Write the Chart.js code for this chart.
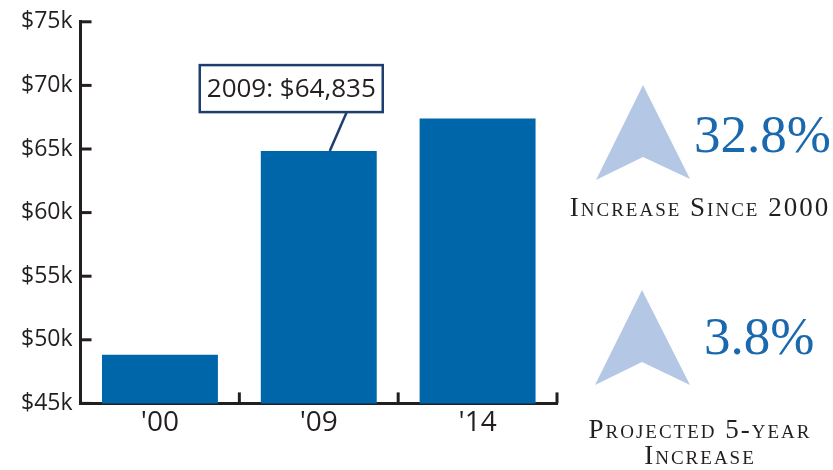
<!DOCTYPE html>
<html>
<head>
<meta charset="utf-8">
<script src="https://cdn.jsdelivr.net/npm/chart.js@4/dist/chart.umd.min.js"></script>
<style>
    html, body { margin: 0; padding: 0; background: #fff; }
    #wrap { position: relative; width: 833px; height: 470px; overflow: hidden; }
    #chartBox { position: absolute; left: 0; top: 0; width: 833px; height: 470px; }
    .arrow { position: absolute; }
    .pct {
        position: absolute;
        font-family: "Liberation Serif", "DejaVu Serif", serif;
        font-size: 53px;
        color: #1a68ad;
        line-height: 1;
        white-space: nowrap;
    }
    .caption {
        position: absolute;
        font-family: "Liberation Serif", "DejaVu Serif", serif;
        font-variant: small-caps;
        font-size: 27px;
        letter-spacing: 2px;
        color: #231f20;
        line-height: 26px;
        text-align: center;
        white-space: nowrap;
    }
</style>
</head>
<body>
<div id="wrap">
    <div id="chartBox"><canvas id="incomeChart"></canvas></div>

    <svg class="arrow" style="left:590px;top:80px" width="110" height="110" viewBox="0 0 110 110">
        <polygon points="53,5 6,100 53,77 100,99" fill="#b4c8e5"/>
    </svg>
    <div class="pct" style="left:694px;top:108px">32.8%</div>
    <div class="caption" style="left:560px;top:194px;width:280px">Increase Since 2000</div>

    <svg class="arrow" style="left:590px;top:285px" width="110" height="110" viewBox="0 0 110 110">
        <polygon points="52,5 5,100 52,77 100,100" fill="#b4c8e5"/>
    </svg>
    <div class="pct" style="left:704px;top:310px">3.8%</div>
    <div class="caption" style="left:560px;top:416px;width:280px">Projected 5-year<br>Increase</div>
</div>

<script>
// ===========================
// MEDIAN INCOME BAR CHART
// ===========================

const years = ["'00", "'09", "'14"];
const incomeValues = [48822, 64835, 67400];
const yTicks = [45000, 50000, 55000, 60000, 65000, 70000, 75000];

const calloutIndex = 1;
const calloutLabel = '2009: $64,835';

const axisColor = '#231f20';
const barColor = '#0066aa';

// Ticks pointing into the plot area
const innerTicksPlugin = {
    id: 'innerTicks',
    afterDraw(chart) {
        const ctx = chart.ctx;
        const x = chart.scales.x;
        const y = chart.scales.y;
        const area = chart.chartArea;

        ctx.save();
        ctx.strokeStyle = axisColor;
        ctx.lineWidth = 3;

        // y ticks
        yTicks.forEach(v => {
            const py = y.getPixelForValue(v);
            ctx.beginPath();
            ctx.moveTo(area.left, py);
            ctx.lineTo(area.left + 11, py);
            ctx.stroke();
        });

        // x ticks between categories
        const half = (x.getPixelForValue(1) - x.getPixelForValue(0)) / 2;
        years.forEach((_, i) => {
            const px = x.getPixelForValue(i) + half;
            ctx.beginPath();
            ctx.moveTo(px, area.bottom);
            ctx.lineTo(px, area.bottom - 11);
            ctx.stroke();
        });
        ctx.restore();
    }
};

// Callout box with leader line to the 2009 bar
const calloutPlugin = {
    id: 'callout',
    afterDatasetsDraw(chart) {
        const ctx = chart.ctx;
        const bar = chart.getDatasetMeta(0).data[calloutIndex];
        const tipX = bar.x + 11;
        const tipY = bar.y;

        ctx.save();
        ctx.font = '26px "Open Sans", sans-serif';
        const textW = ctx.measureText(calloutLabel).width;
        const boxW = textW + 14;
        const boxH = 47;
        const boxX = bar.x - 119;
        const boxY = tipY - 86;

        ctx.strokeStyle = '#1d3e6e';
        ctx.lineWidth = 2.5;
        ctx.beginPath();
        ctx.moveTo(tipX + 17, boxY + boxH);
        ctx.lineTo(tipX, tipY);
        ctx.stroke();

        ctx.fillStyle = '#fff';
        ctx.fillRect(boxX, boxY, boxW, boxH);
        ctx.strokeRect(boxX, boxY, boxW, boxH);

        ctx.fillStyle = axisColor;
        ctx.textAlign = 'center';
        ctx.textBaseline = 'middle';
        ctx.fillText(calloutLabel, boxX + boxW / 2, boxY + boxH / 2 + 1);
        ctx.restore();
    }
};

const ctx = document.getElementById('incomeChart').getContext('2d');

new Chart(ctx, {
    type: 'bar',
    data: {
        labels: years,
        datasets: [{
            data: incomeValues,
            backgroundColor: barColor,
            borderWidth: 0,
            categoryPercentage: 1,
            barPercentage: 0.73
        }]
    },
    options: {
        responsive: true,
        maintainAspectRatio: false,
        animation: false,
        layout: {
            padding: { top: 10, right: 276, left: 13, bottom: 27 }
        },
        plugins: {
            legend: { display: false },
            tooltip: { enabled: false }
        },
        scales: {
            x: {
                grid: { display: false, drawTicks: false },
                border: { display: true, color: axisColor, width: 3 },
                ticks: {
                    color: axisColor,
                    padding: 3,
                    font: { family: '"Open Sans", sans-serif', size: 28 }
                }
            },
            y: {
                min: 45000,
                max: 75000,
                grid: { display: false, drawTicks: false },
                border: { display: true, color: axisColor, width: 3 },
                afterBuildTicks: scale => {
                    scale.ticks = yTicks.map(v => ({ value: v }));
                },
                ticks: {
                    color: axisColor,
                    padding: 8,
                    font: { family: '"Open Sans", sans-serif', size: 23 },
                    callback: value => '$' + (value / 1000) + 'k'
                }
            }
        }
    },
    plugins: [innerTicksPlugin, calloutPlugin]
});
</script>
</body>
</html>
